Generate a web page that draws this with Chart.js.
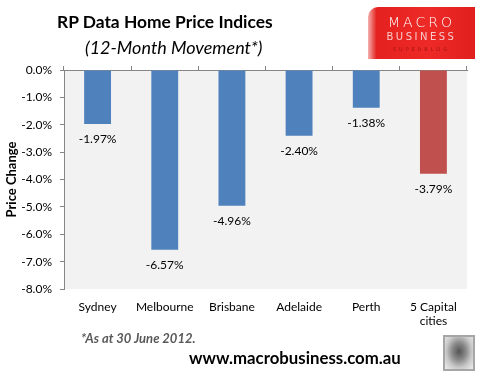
<!DOCTYPE html>
<html>
<head>
<meta charset="utf-8">
<script src="https://cdn.jsdelivr.net/npm/chart.js@4.4.0/dist/chart.umd.min.js"></script>
<style>
  html, body { margin: 0; padding: 0; background: #fff; }
  #wrap { position: relative; width: 483px; height: 377px; overflow: hidden; font-family: Lato, "Open Sans", sans-serif; }
  #chart { position: absolute; left: 0; top: 0; }
  .txt { position: absolute; white-space: nowrap; pointer-events: none; }
  #title { left: 57px; top: 11px; font-size: 17.4px; font-weight: bold; color: #000; }
  #subtitle { left: 85px; top: 36px; font-size: 18px; font-style: italic; color: #000; }
  #note { left: 81px; top: 330px; font-size: 13px; font-weight: bold; font-style: italic; color: #595959; }
  #url { left: 189px; top: 347px; font-size: 16.8px; font-weight: bold; color: #000; }
  #logo { position: absolute; left: 368px; top: 7px; width: 107px; height: 52px;
          background: linear-gradient(90deg, #f4b0ae 0%, #e4211e 8%, #ee2a27 55%, #e0201d 100%);
          border-top-left-radius: 10px; }
  #logo div { position: absolute; left: 0; width: 100%; text-align: center; font-family: "DejaVu Sans", sans-serif; }
  #m1 { top: 7px; font-size: 14px; letter-spacing: 3px; color: #fff; font-weight: 300; }
  #m2 { top: 24px; font-size: 10px; letter-spacing: 2.5px; color: #f7c9c8; }
  #m3 { top: 39px; font-size: 5px; letter-spacing: 3px; color: #a31412; }
  #wolf { position: absolute; left: 443px; top: 335px; width: 32px; height: 36px; box-sizing: border-box;
          border: 2px solid #a6a6a6; background: radial-gradient(ellipse at 50% 45%, #555 0%, #8a8a8a 35%, #c8c8c8 65%, #eee 100%); }
</style>
</head>
<body>
<div id="wrap">
  <canvas id="chart" width="483" height="377"></canvas>
  <div class="txt" id="title">RP Data Home Price Indices</div>
  <div class="txt" id="subtitle">(12-Month Movement*)</div>
  <div id="logo"><div id="m1">MACRO</div><div id="m2">BUSINESS</div><div id="m3">SUPERBLOG</div></div>
  <div class="txt" id="note">*As at 30 June 2012.</div>
  <div class="txt" id="url">www.macrobusiness.com.au</div>
  <div id="wolf"></div>
</div>
<script>
'use strict';

const CITIES = ['Sydney', 'Melbourne', 'Brisbane', 'Adelaide', 'Perth', ['5 Capital', 'cities']];
const CHANGE = [-1.97, -6.57, -4.96, -2.40, -1.38, -3.79];
const BAR_COLORS = ['#4f81bd', '#4f81bd', '#4f81bd', '#4f81bd', '#4f81bd', '#c0504d'];
const Y_MIN = -8;
const Y_MAX = 0;

// grey plot background
const plotBg = {
  id: 'plotBg',
  beforeDraw(chart) {
    const { ctx, chartArea: a } = chart;
    ctx.save();
    ctx.fillStyle = '#f2f2f2';
    ctx.fillRect(a.left, a.top, a.right - a.left, a.bottom - a.top);
    ctx.restore();
  },
};

// value labels under each bar
const barLabels = {
  id: 'barLabels',
  afterDatasetsDraw(chart) {
    const ctx = chart.ctx;
    const meta = chart.getDatasetMeta(0);
    ctx.save();
    ctx.font = '12px Lato, sans-serif';
    ctx.fillStyle = '#000';
    ctx.textAlign = 'center';
    ctx.textBaseline = 'middle';
    meta.data.forEach((bar, i) => {
      ctx.fillText(CHANGE[i].toFixed(2) + '%', bar.x, bar.y + 15);
    });
    ctx.restore();
  },
};

const ctx = document.getElementById('chart').getContext('2d');
new Chart(ctx, {
  type: 'bar',
  data: {
    labels: CITIES,
    datasets: [{
      data: CHANGE,
      backgroundColor: BAR_COLORS,
      borderWidth: 0,
      barPercentage: 0.4,
      categoryPercentage: 1,
      xAxisID: 'x',
    }],
  },
  options: {
    responsive: false,
    animation: false,
    layout: { padding: { top: 66, right: 16, bottom: 0, left: 0 } },
    plugins: { legend: { display: false }, tooltip: { enabled: false } },
    scales: {
      x: {
        position: 'bottom',
        grid: { display: false, drawTicks: false },
        border: { display: false },
        ticks: { color: '#000', font: { family: 'Lato', size: 12 }, padding: 11, maxRotation: 0, autoSkip: false },
        afterFit: s => { s.height = 88; },
      },
      x2: {
        type: 'category',
        position: 'top',
        offset: true,
        grid: { offset: true, drawOnChartArea: false, drawTicks: true, tickLength: 4, color: '#868686' },
        border: { display: true, color: '#868686' },
        ticks: { display: false },
        afterFit: s => { s.height = 4; },
      },
      y: {
        min: Y_MIN,
        max: Y_MAX,
        ticks: { stepSize: 1, color: '#000', padding: 8, font: { family: 'Lato', size: 12 },
                 callback: v => v.toFixed(1) + '%' },
        grid: { drawOnChartArea: false, tickLength: 4, color: '#868686' },
        border: { display: true, color: '#868686' },
        title: { display: true, text: 'Price Change', color: '#000', font: { family: 'Lato', size: 13, weight: 'bold' } },
        afterFit: s => { s.width = 64; },
      },
    },
  },
  plugins: [plotBg, barLabels],
});
</script>
</body>
</html>
